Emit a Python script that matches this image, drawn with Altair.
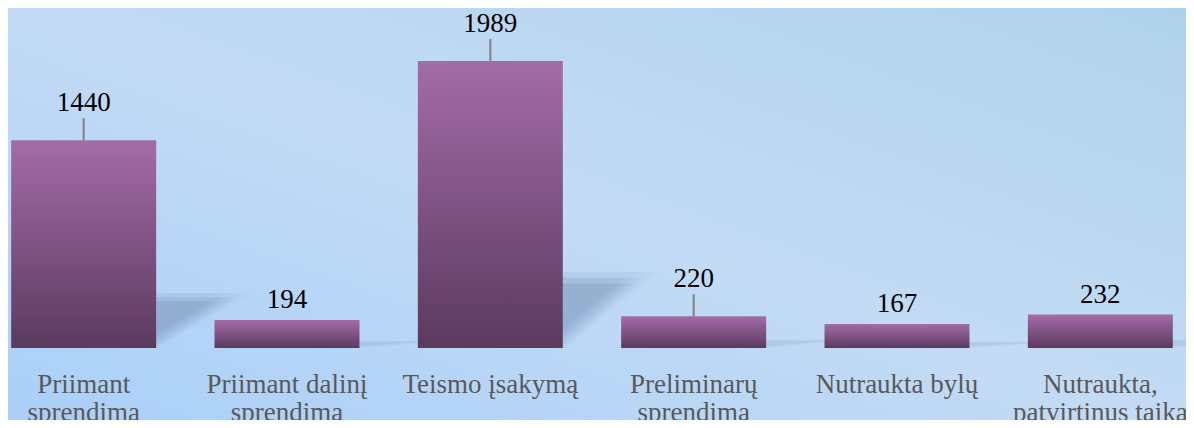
import altair as alt
import pandas as pd

categories = [
    "Priimant\nsprendimą",
    "Priimant dalinį\nsprendimą",
    "Teismo įsakymą",
    "Preliminarų\nsprendimą",
    "Nutraukta bylų",
    "Nutraukta,\npatvirtinus taiką",
]
values = [1440, 194, 1989, 220, 167, 232]
has_leader = [True, False, True, True, False, False]

df = pd.DataFrame({"cat": categories, "value": values, "leader": has_leader})

W, H, BOTTOM = 1178, 340, 72
FONT = "Times"

x_enc = alt.X(
    "cat:N",
    sort=categories,
    scale=alt.Scale(range=[-26, 1194], paddingInner=0.287, paddingOuter=0.1435),
    axis=alt.Axis(
        title=None, domain=False, ticks=False, grid=False, zindex=5,
        labelAngle=0, labelFont=FONT, labelFontSize=27, labelColor="#595959",
        labelLineHeight=28, labelBaseline="top", labelPadding=23,
        labelLimit=0, labelOverlap=False, labelBound=False, labelFlush=False,
        labelExpr="split(datum.value, '\\n')",
    ),
)
y_scale = alt.Scale(domain=[0, 2356], range=[340, 0])
y_enc = alt.Y("value:Q", scale=y_scale, axis=None)

bg = alt.Chart(alt.Data(values=[{}])).mark_rect(
    fill=alt.Gradient(
        gradient="linear", x1=0, y1=1, x2=1, y2=0,
        stops=[
            alt.GradientStop(color="#a9cff8", offset=0),
            alt.GradientStop(color="#c3dbf5", offset=0.5),
            alt.GradientStop(color="#afd2e9", offset=1),
        ],
    )
).encode(x=alt.value(-10), x2=alt.value(W + 10), y=alt.value(-10), y2=alt.value(H + BOTTOM + 10))

base = alt.Chart(df)


def shadow_layer(frac, width, alpha):
    col = "rgba(110,135,170,%s)" % alpha
    return base.transform_calculate(sh="datum.value * %s" % frac).mark_bar(
        width=width, xOffset=72.5 + width / 2,
        fill=alt.Gradient(
            gradient="linear", x1=0, y1=0, x2=1, y2=1,
            stops=[
                alt.GradientStop(color=col, offset=0),
                alt.GradientStop(color=col, offset=0.35),
                alt.GradientStop(color="rgba(110,135,170,0)", offset=0.52),
            ],
        ),
    ).encode(
        x=x_enc,
        y=alt.Y("sh:Q", scale=y_scale, axis=None),
        opacity=alt.condition("datum.value > 1000", alt.value(1), alt.value(0.35)),
    )


shadows = [
    shadow_layer(0.265, 98, 0.15),
    shadow_layer(0.245, 86, 0.2),
    shadow_layer(0.225, 74, 0.25),
]

bars = base.mark_bar(
    fill=alt.Gradient(
        gradient="linear", x1=0, y1=0, x2=0, y2=1,
        stops=[
            alt.GradientStop(color="#a36ca8", offset=0),
            alt.GradientStop(color="#5b3a5e", offset=1),
        ],
    )
).encode(x=x_enc, y=y_enc)

leaders = base.transform_filter("datum.leader").mark_rule(
    y2Offset=-22, color="#808080", strokeWidth=2
).encode(x=x_enc, y=y_enc, y2=alt.Y2("value:Q"))

labels_lead = base.transform_filter("datum.leader").mark_text(
    font=FONT, fontSize=27, color="#000000", dy=-29, baseline="alphabetic"
).encode(x=x_enc, y=y_enc, text="value:Q")

labels_plain = base.transform_filter("!datum.leader").mark_text(
    font=FONT, fontSize=27, color="#000000", dy=-12, baseline="alphabetic"
).encode(x=x_enc, y=y_enc, text="value:Q")

chart = alt.layer(bg, *shadows, bars, leaders, labels_lead, labels_plain).properties(
    width=W, height=H, autosize=alt.AutoSizeParams(type="none"),
    padding={"left": 0, "top": 0, "right": 0, "bottom": BOTTOM},
    background="#bcd6f2",
).configure_view(stroke=None)

chart.save("out.html", embed_options={"renderer": "svg", "actions": False})
